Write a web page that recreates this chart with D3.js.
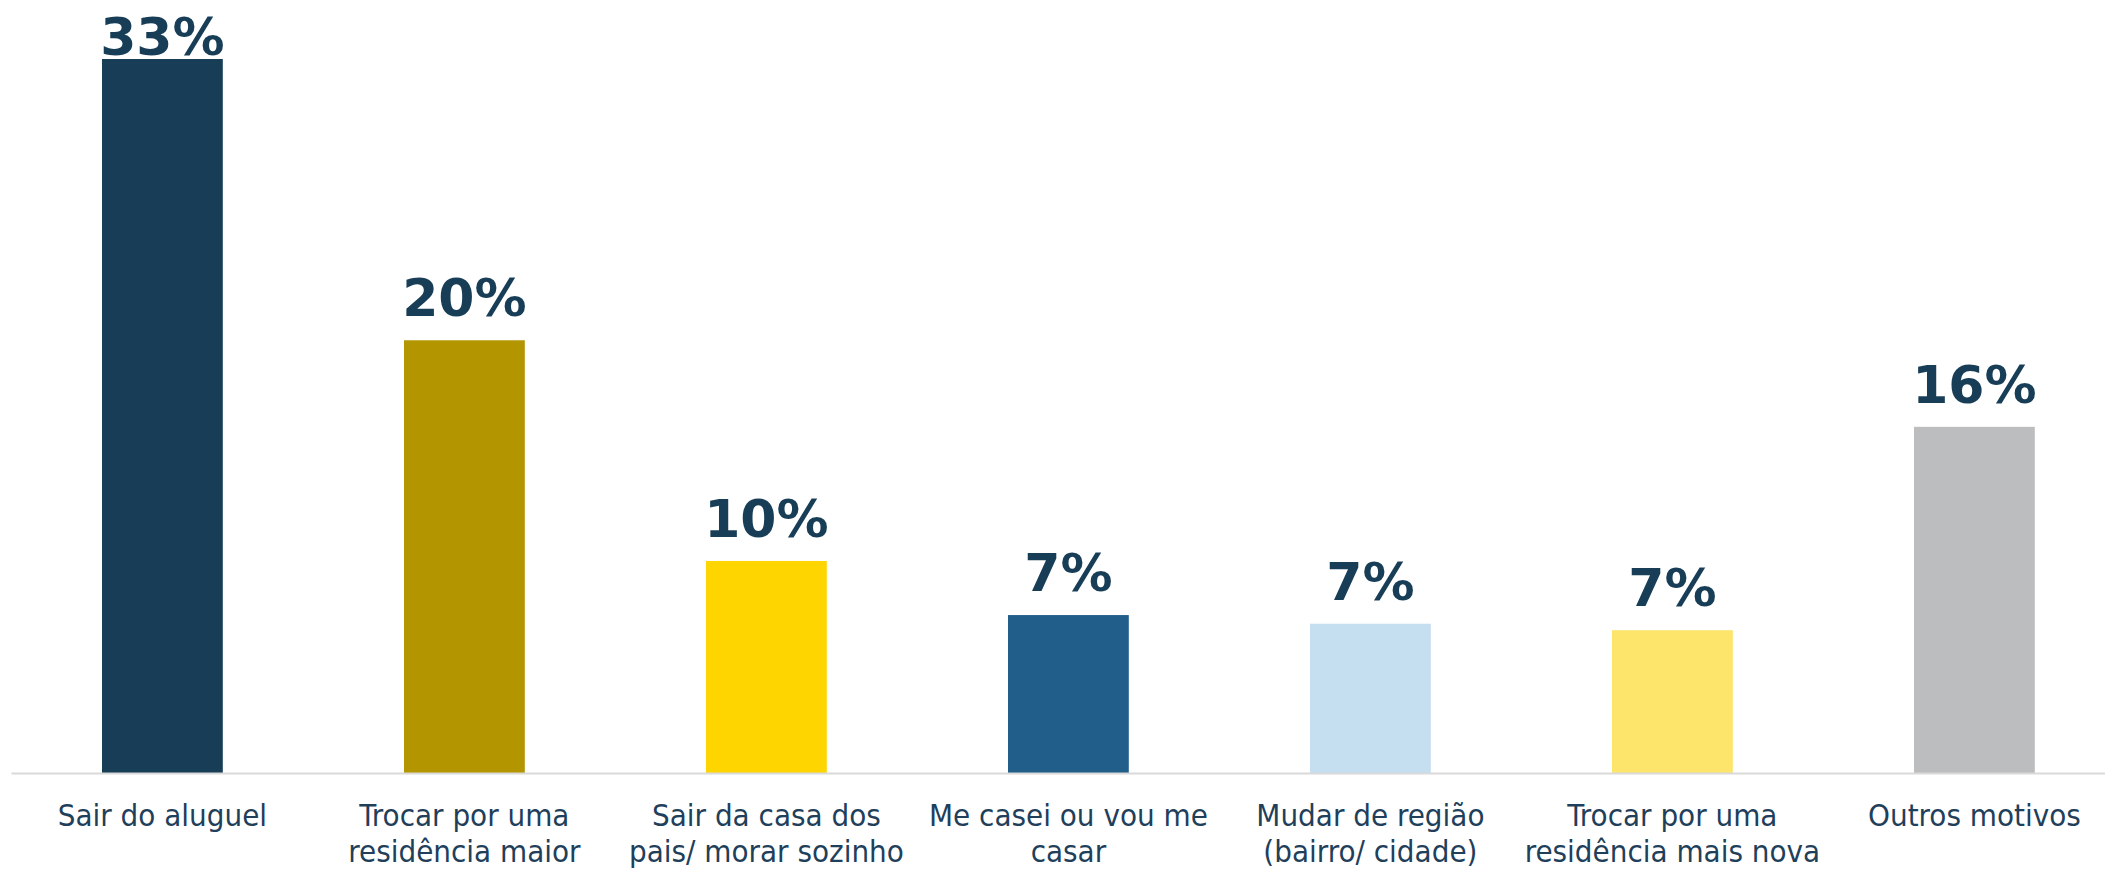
<!DOCTYPE html>
<html>
<head>
<meta charset="utf-8">
<script src="https://cdn.jsdelivr.net/npm/d3@7"></script>
<style>
  body { margin: 0; background: #fff; }
  .value { font-family: "DejaVu Sans", Verdana, sans-serif; font-weight: bold; fill: #173d57; }
  .tick text { font-family: "DejaVu Sans Condensed", "DejaVu Sans", sans-serif; fill: #1f3f5b; }
</style>
</head>
<body>
<script>
const categories = [
  ["Sair do aluguel"],
  ["Trocar por uma", "residência maior"],
  ["Sair da casa dos", "pais/ morar sozinho"],
  ["Me casei ou vou me", "casar"],
  ["Mudar de região", "(bairro/ cidade)"],
  ["Trocar por uma", "residência mais nova"],
  ["Outros motivos"]
];
const values = [33, 20, 9.8, 7.3, 6.9, 6.6, 16];
const valueLabels = ["33%", "20%", "10%", "7%", "7%", "7%", "16%"];
const colors = ["#173d57", "#b39500", "#ffd500", "#215f8a", "#c5def0", "#fde46b", "#bcbdbf"];

const width = 2105,
  height = 872,
  baseline = 773;

const keys = categories.map((d, i) => i);

const x = d3
  .scaleBand()
  .domain(keys)
  .range([11.4, 2125.4])
  .paddingInner(0.6)
  .paddingOuter(0.3);

const y = d3.scaleLinear().domain([0, 33]).range([baseline, 59]);

const svg = d3
  .select("body")
  .append("svg")
    .attr("width", width)
    .attr("height", height);

// bars
svg
  .selectAll("rect")
  .data(values)
  .enter()
  .append("rect")
    .attr("x", (d, i) => x(i))
    .attr("y", d => y(d))
    .attr("width", x.bandwidth())
    .attr("height", d => baseline - y(d))
    .attr("fill", (d, i) => colors[i]);

// value labels (first one gets pushed down to stay inside the chart)
svg
  .selectAll("text.value")
  .data(values)
  .enter()
  .append("text")
    .attr("class", "value")
    .attr("x", (d, i) => x(i) + x.bandwidth() / 2)
    .attr("y", d => Math.max(y(d) - 24, 55))
    .attr("text-anchor", "middle")
    .attr("font-size", 52)
    .text((d, i) => valueLabels[i]);

// category axis
const axis = svg
  .append("g")
    .attr("transform", "translate(0," + baseline + ")")
    .call(d3.axisBottom(x).tickSize(0).tickFormat(""));

axis.select(".domain")
  .attr("d", "M" + x.range()[0] + ",0.5H" + width)
  .attr("stroke", "#d9d9d9")
  .attr("stroke-width", 2);

axis.selectAll(".tick text").remove();

axis
  .selectAll(".tick")
  .append("text")
    .attr("text-anchor", "middle")
    .attr("font-size", 31)
    .attr("y", 53)
  .selectAll("tspan")
  .data(i => categories[i])
  .enter()
  .append("tspan")
    .attr("x", 0)
    .attr("dy", (d, j) => (j === 0 ? 0 : 36))
    .text(d => d);
</script>
</body>
</html>
